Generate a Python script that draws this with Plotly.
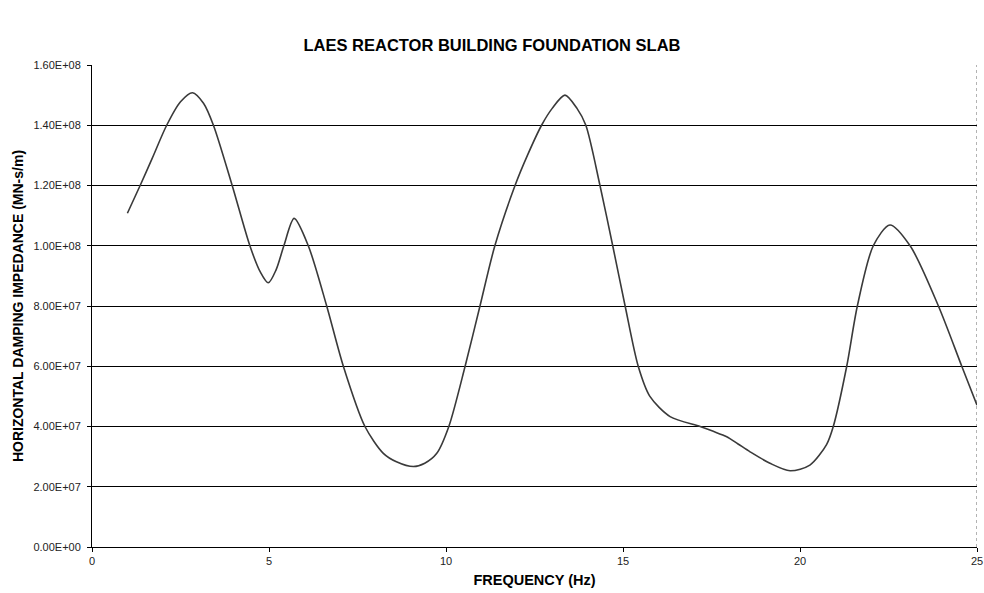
import plotly.graph_objects as go

# Frequency (Hz) and horizontal damping impedance (MN-s/m)
freq = [1.0, 1.36, 1.7, 2.11, 2.5, 2.84, 3.15, 3.43, 3.96, 4.46, 4.75, 4.98, 5.2, 5.42,
        5.71, 6.11, 6.63, 7.1, 7.71, 8.23, 8.6, 9.08, 9.4, 9.74, 10.08, 10.54, 10.96,
        11.38, 11.95, 12.3, 12.7, 13.0, 13.36, 13.7, 13.95, 14.35, 14.71, 15.06, 15.43,
        15.76, 16.33, 17.18, 17.55, 17.93, 18.25, 18.59, 19.15, 19.72, 20.28, 20.75,
        20.94, 21.32, 21.62, 22.07, 22.54, 23.11, 23.91, 24.57, 25.0]
impedance = [1.108e8, 1.20e8, 1.29e8, 1.40e8, 1.478e8, 1.508e8, 1.473e8, 1.40e8, 1.20e8,
             1.00e8, 0.914e8, 0.877e8, 0.92e8, 1.00e8, 1.091e8, 1.00e8, 0.80e8, 0.60e8,
             0.40e8, 0.311e8, 0.283e8, 0.267e8, 0.278e8, 0.311e8, 0.40e8, 0.60e8, 0.80e8,
             1.00e8, 1.20e8, 1.30e8, 1.40e8, 1.456e8, 1.50e8, 1.456e8, 1.40e8, 1.20e8,
             1.00e8, 0.80e8, 0.60e8, 0.50e8, 0.433e8, 0.40e8, 0.384e8, 0.366e8, 0.342e8,
             0.316e8, 0.278e8, 0.253e8, 0.272e8, 0.34e8, 0.40e8, 0.60e8, 0.80e8, 1.00e8,
             1.069e8, 1.00e8, 0.80e8, 0.60e8, 0.471e8]

x_ticks = [0, 5, 10, 15, 20, 25]
x_max = 25
y_ticks = [0, 2e7, 4e7, 6e7, 8e7, 1e8, 1.2e8, 1.4e8, 1.6e8]
y_tick_labels = ["0.00E+00", "2.00E+07", "4.00E+07", "6.00E+07", "8.00E+07",
                 "1.00E+08", "1.20E+08", "1.40E+08", "1.60E+08"]

title_text = "LAES REACTOR BUILDING FOUNDATION SLAB"
x_title = "FREQUENCY (Hz)"
y_title = "HORIZONTAL DAMPING IMPEDANCE (MN-s/m)"

FONT = "Liberation Sans, Arial, sans-serif"

fig = go.Figure()
fig.add_trace(go.Scatter(
    x=freq, y=impedance, mode="lines",
    line=dict(color="#3a3a3a", width=1.6, shape="spline", smoothing=0.8),
    hoverinfo="x+y", showlegend=False,
))

# dotted right-hand frame line of the plot area
fig.add_shape(type="line", xref="x", yref="paper", x0=x_max, x1=x_max, y0=0, y1=1,
              line=dict(color="#666", width=1, dash="dot"), layer="below")

fig.update_layout(
    width=984, height=593,
    margin=dict(l=92, r=7, t=65, b=46),
    paper_bgcolor="white", plot_bgcolor="white",
    title=dict(text="<b>" + title_text + "</b>", x=0.5, xanchor="center",
               y=1 - 45 / 593, yanchor="middle",
               font=dict(family=FONT, size=16.5, color="black")),
    xaxis=dict(
        range=[0, x_max], tickmode="array", tickvals=x_ticks,
        ticks="outside", ticklen=4, tickcolor="black",
        showline=True, linecolor="black", linewidth=1,
        showgrid=False, zeroline=False, automargin=False,
        tickfont=dict(family=FONT, size=11, color="#222"),
        title=dict(text="<b>" + x_title + "</b>", standoff=8,
                   font=dict(family=FONT, size=14.5, color="black")),
    ),
    yaxis=dict(
        range=[0, 1.6e8], tickmode="array", tickvals=y_ticks, ticktext=y_tick_labels,
        ticks="outside", ticklen=4, tickcolor="black",
        showline=True, linecolor="black", linewidth=1,
        showgrid=True, gridcolor="black", gridwidth=1, zeroline=False,
        automargin=False, ticklabelstandoff=4,
        tickfont=dict(family=FONT, size=11, color="#222"),
        title=dict(text="<b>" + y_title + "</b>", standoff=6,
                   font=dict(family=FONT, size=14, color="black")),
    ),
)

fig.write_html("out.html")
